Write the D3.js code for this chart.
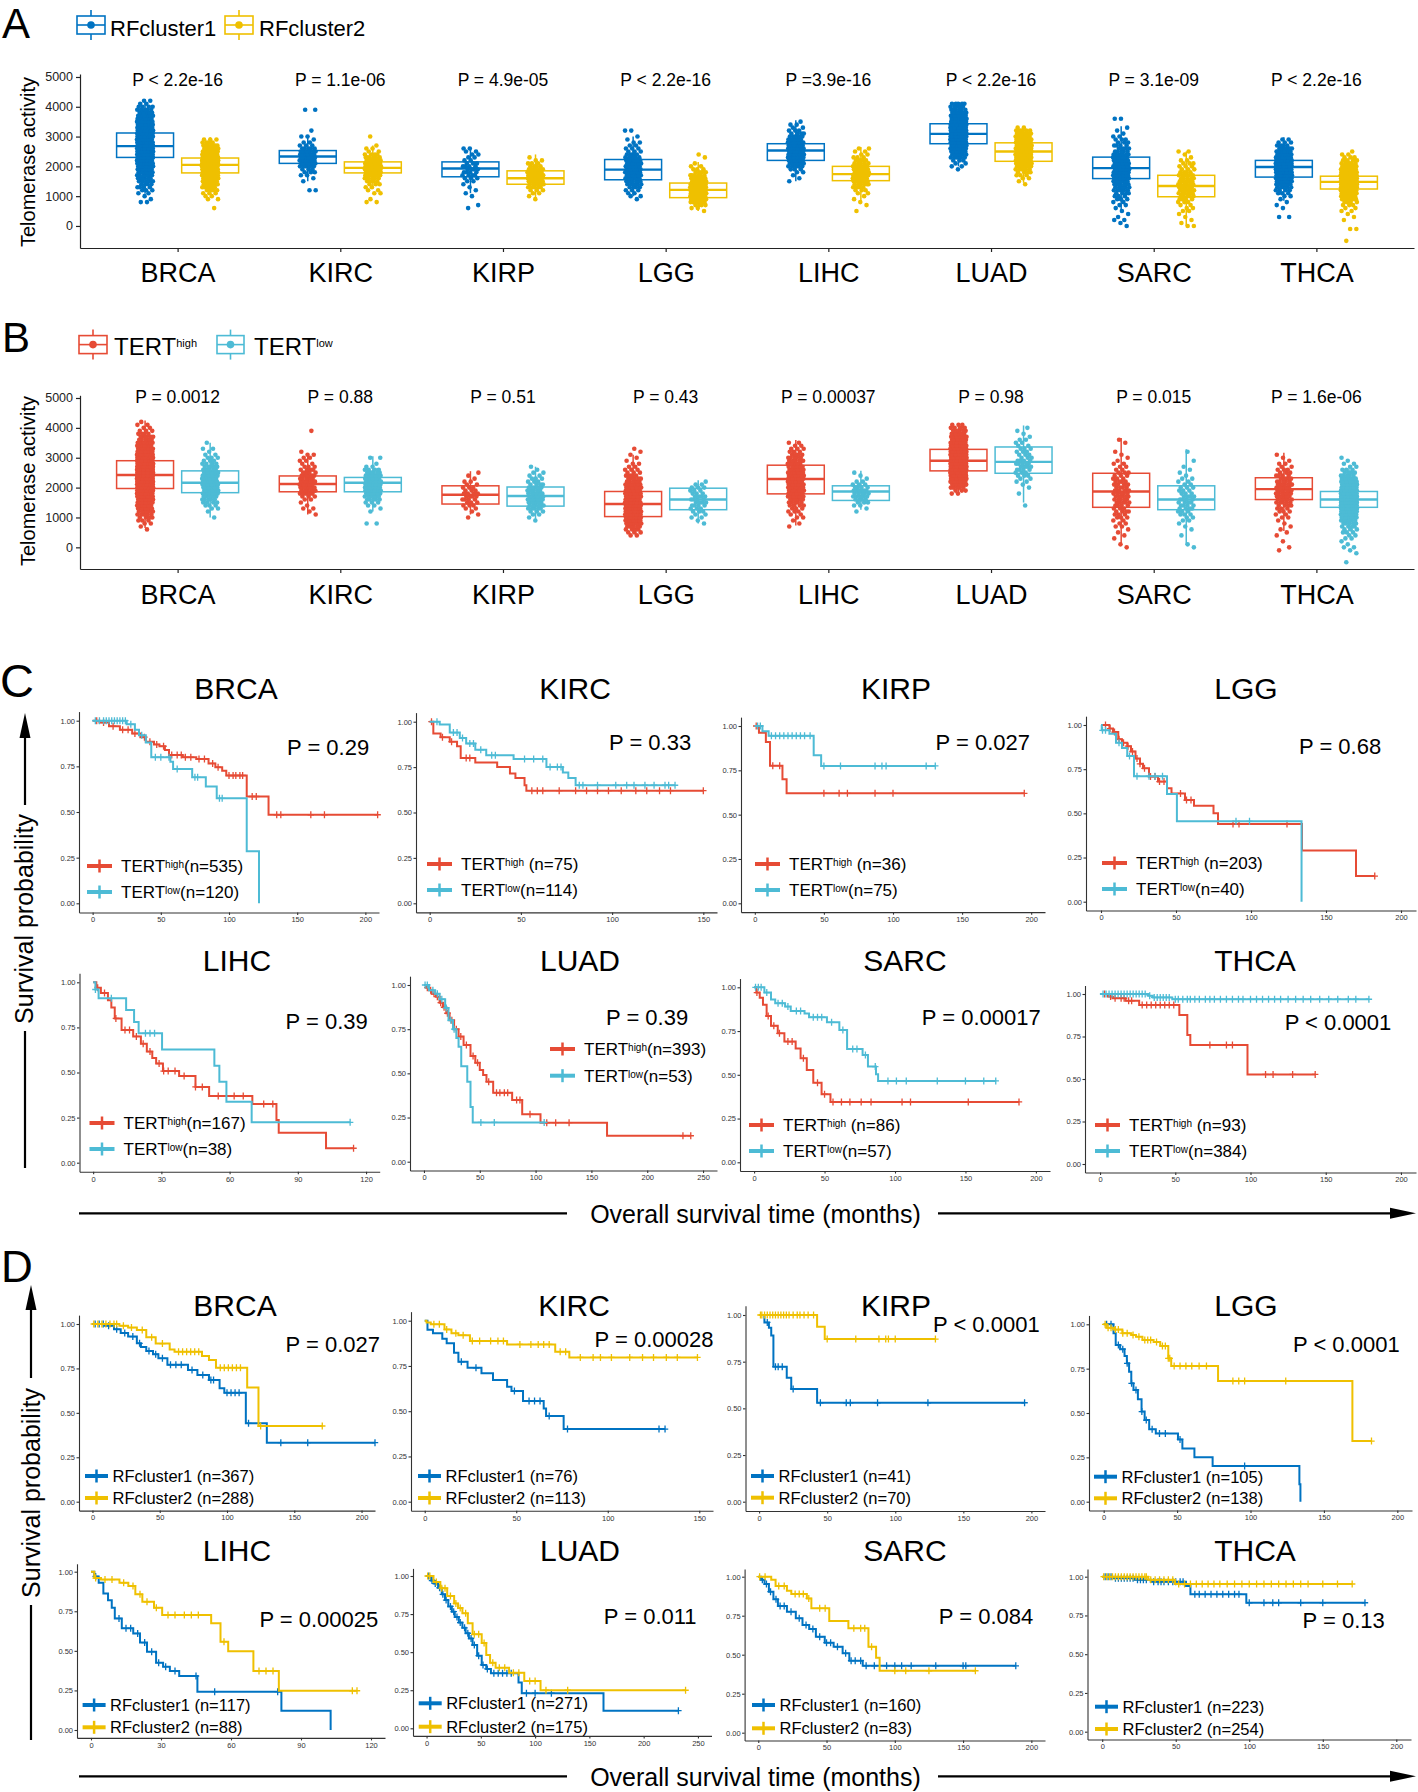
<!DOCTYPE html>
<html><head><meta charset="utf-8"><title>Telomerase figure</title>
<script src="https://cdn.jsdelivr.net/npm/d3@7/dist/d3.min.js"></script>
<style>html,body{margin:0;padding:0;background:#fff;}svg{display:block;}</style>
</head><body>
<svg id="fig" width="1418" height="1792" xmlns="http://www.w3.org/2000/svg"></svg>
<script>
// ================= DATA =================
const cancers = ["BRCA","KIRC","KIRP","LGG","LIHC","LUAD","SARC","THCA"];

// Panel A: box stats [lowerWhisker, Q1, median, Q3, upperWhisker]
const boxA_rf1 = [[1080,2300,2680,3120,4250],[1500,2100,2330,2530,3050],[1100,1650,1930,2150,2650],[1000,1550,1890,2230,3000],[1500,2200,2530,2760,3550],[2000,2760,3090,3430,4130],[500,1590,1940,2310,3350],[850,1640,1980,2200,2980]];
const boxA_rf2 = [[1040,1780,2050,2280,2980],[1250,1780,1950,2150,2700],[950,1400,1600,1850,2400],[500,950,1210,1440,2150],[800,1520,1740,2000,2650],[1450,2170,2500,2790,3300],[0,980,1340,1700,2500],[650,1240,1480,1670,2300]];
// Panel A: point counts per 100-unit value bin [lowest bin value, counts]
const histA_rf1 = [
 [800,[2,1,1,2,3,4,4,5,6,7,9,10,11,13,14,22,23,24,23,19,19,18,18,18,16,14,13,11,10,8,7,5,4,2,2]],
 [1200,[2,0,0,1,1,2,3,3,5,8,10,10,9,7,5,3,2,1,2,0,1,0,0,0,0,0,0,2]],
 [600,[1,1,0,0,1,1,1,1,1,2,3,4,4,4,4,3,2,2,2,2,2]],
 [900,[1,2,2,3,4,5,7,8,9,9,9,8,8,7,5,4,3,3,2,2,1,1,0,2]],
 [1500,[1,1,1,2,3,5,7,9,10,12,12,11,10,9,7,5,4,3,2,2,1]],
 [1900,[1,2,2,3,5,7,10,14,18,20,22,23,23,22,20,18,15,12,10,8,6,5,5]],
 [0,[1,1,2,1,1,1,1,2,2,3,3,4,5,6,7,9,10,10,11,11,10,10,9,8,6,5,4,4,3,3,2,1,1,1,0,0,2]],
 [300,[2,0,0,1,1,1,1,2,3,4,6,8,11,16,19,21,21,23,20,17,13,10,8,6,4,3,2]]
];
const histA_rf2 = [
 [600,[1,0,0,2,2,3,4,6,8,10,13,23,24,24,24,36,36,20,16,12,10,7,4,3]],
 [800,[2,1,0,2,2,2,3,4,6,10,14,16,14,12,9,6,4,2,2,1,0,0,1]],
 [900,[1,1,2,3,5,7,9,10,9,8,5,4,3,2,1]],
 [500,[1,2,4,7,10,14,17,18,16,13,10,8,6,4,3,2,1,0,1,1]],
 [500,[1,0,1,1,1,1,2,3,4,6,8,9,10,9,8,6,5,4,3,2,2,2]],
 [1400,[1,1,2,3,4,6,8,11,13,16,17,17,16,15,12,10,8,8,5,2]],
 [0,[2,1,1,1,1,2,2,2,3,4,5,6,6,6,6,6,5,5,4,3,3,3,2,1,1,2]],
 [-500,[1,0,0,0,2,0,0,1,1,1,2,2,3,4,6,9,14,20,26,30,30,27,22,16,12,9,6,4,3,2,1]]
];
const pA = ["P < 2.2e-16","P = 1.1e-06","P = 4.9e-05","P < 2.2e-16","P =3.9e-16","P < 2.2e-16","P = 3.1e-09","P < 2.2e-16"];

// Panel B
const boxB_high = [[650,1970,2420,2900,4250],[1100,1860,2120,2390,3100],[1100,1450,1760,2060,2550],[460,1030,1450,1870,3100],[730,1790,2290,2750,3590],[1850,2560,2900,3280,4160],[100,1340,1870,2480,3660],[550,1600,1950,2330,3170]];
const boxB_low = [[1000,1830,2160,2560,3500],[1200,1860,2160,2340,3050],[950,1380,1720,2020,2700],[800,1260,1600,1980,2250],[1260,1570,1870,2060,2560],[1500,2480,2860,3360,4080],[80,1260,1600,2060,3280],[550,1340,1600,1870,2650]];
const histB_high = [
 [600,[1,1,2,3,4,5,6,8,10,12,14,18,22,28,27,27,27,27,26,34,34,33,33,26,22,18,15,12,10,8,6,5,4,3,2,2,1]],
 [1100,[1,1,2,1,1,2,3,5,6,8,7,6,6,5,4,4,3,2,2,2,2,1,0,0,0,0,0,0,1]],
 [1000,[1,1,1,2,3,3,4,4,4,3,3,2,2,1,1,1]],
 [400,[2,3,4,6,8,10,12,13,14,14,14,13,12,12,11,10,8,7,6,5,4,3,3,2,2,1,1,1,1,1]],
 [700,[1,1,1,2,2,3,3,4,5,7,9,10,10,11,11,11,10,10,9,9,7,6,6,5,4,3,3,2,2]],
 [1800,[2,3,5,9,14,20,22,24,28,28,28,27,32,31,30,20,17,14,11,9,7,5,4,3]],
 [0,[1,1,0,1,1,1,1,2,2,2,3,3,4,3,4,5,5,5,5,4,4,4,4,3,3,3,2,2,2,1,1,1,1,0,0,1,1]],
 [-100,[1,1,0,1,0,1,1,1,1,1,1,2,2,3,3,4,5,5,7,7,7,7,6,5,4,4,3,3,2,2,1,1,1]]
];
const histB_low = [
 [1000,[1,0,1,2,3,4,5,6,8,9,10,10,9,9,8,8,6,5,4,3,3,2,1,2,0,1]],
 [800,[2,0,0,0,1,1,2,3,5,6,9,11,13,14,13,11,8,6,4,2,1,0,2]],
 [900,[1,1,2,3,5,6,7,8,8,7,6,5,4,3,3,2,2,1,1]],
 [800,[1,1,2,2,3,3,4,4,4,4,3,3,3,2,1]],
 [1200,[1,1,2,3,4,5,5,5,4,3,2,1,1,1]],
 [1400,[1,0,0,0,1,0,1,1,2,2,3,3,4,4,5,4,3,3,3,3,2,2,2,1,1,1,1]],
 [0,[1,1,0,0,1,0,1,1,1,2,2,3,3,4,4,4,4,4,3,3,3,2,2,2,1,1,1,1,0,1,0,0,1]],
 [-500,[1,0,0,1,1,2,1,1,2,2,3,3,4,5,7,10,15,22,30,36,41,41,36,30,24,18,13,10,7,5,4,3,2,2,1,1]]
];
const pB = ["P = 0.0012","P = 0.88","P = 0.51","P = 0.43","P = 0.00037","P = 0.98","P = 0.015","P = 1.6e-06"];

// KM: max of time axis (months) per cancer
const kmMax = [200,150,200,200,120,250,200,200];

// Panel C: steps [time, survival] for TERT high / low
const kmC_high = [
 [[0,1],[5,0.99],[12,0.97],[20,0.95],[29,0.93],[35,0.91],[39,0.885],[45,0.87],[49,0.86],[53,0.84],[56,0.812],[66,0.80],[76,0.79],[85,0.766],[90,0.745],[95,0.726],[98,0.70],[113,0.585],[129,0.485],[209,0.485]],
 [[0,1],[2,0.935],[6,0.915],[11,0.89],[15,0.865],[17,0.80],[25,0.775],[37,0.75],[44,0.715],[47,0.69],[52,0.65],[53,0.62],[150,0.62]],
 [[0,1],[3,0.962],[8,0.91],[11,0.776],[20,0.70],[23,0.62],[195,0.62]],
 [[0,1],[5.6,0.98],[8,0.96],[11.5,0.92],[14,0.90],[17.5,0.88],[20,0.85],[23,0.81],[26,0.78],[28,0.755],[32,0.708],[38,0.68],[44,0.642],[47,0.613],[56,0.575],[62,0.543],[75,0.50],[78,0.44],[134,0.29],[170,0.145],[182.5,0.145]],
 [[0,1],[1.4,0.97],[3.4,0.94],[6.5,0.90],[8,0.86],[9.5,0.80],[12.5,0.736],[17.6,0.70],[21,0.66],[23.6,0.616],[26,0.58],[27.7,0.55],[30.7,0.508],[37.8,0.48],[45,0.42],[51,0.37],[70,0.325],[80.6,0.237],[81.6,0.166],[102.4,0.08],[114.5,0.08]],
 [[0,1],[2,0.985],[4.5,0.97],[7,0.95],[10.7,0.934],[14,0.90],[17,0.874],[20,0.84],[23,0.80],[27,0.75],[31,0.708],[35.5,0.66],[41.7,0.598],[46,0.56],[50,0.519],[53,0.49],[56,0.453],[62,0.39],[79,0.349],[88,0.268],[104.4,0.221],[164,0.147],[239,0.147]],
 [[0,1],[1.6,0.97],[4,0.94],[6.3,0.90],[8.9,0.836],[12,0.78],[16.8,0.737],[21.5,0.69],[29.5,0.651],[33,0.594],[37.4,0.528],[42,0.455],[47.9,0.389],[54.2,0.345],[188,0.345]],
 [[0,1],[5.3,0.985],[8.3,0.975],[17,0.96],[26,0.935],[52.7,0.876],[58,0.759],[60,0.70],[98,0.527],[143,0.527]]
];
const kmC_low = [
 [[0,1],[25,0.98],[31,0.95],[34,0.92],[39,0.88],[43,0.80],[57,0.775],[59,0.735],[73,0.69],[83,0.64],[91,0.575],[113,0.285],[122,0]],
 [[0,1],[5.5,0.985],[11,0.94],[16.5,0.91],[20,0.88],[25,0.845],[31,0.815],[46,0.795],[64,0.75],[73,0.72],[76,0.69],[80,0.65],[134.5,0.65]],
 [[0,1],[5.5,0.97],[10,0.945],[42.6,0.835],[48,0.775],[130.6,0.775]],
 [[0,1],[0.5,0.97],[5.6,0.95],[10,0.90],[14,0.87],[17.5,0.825],[22,0.71],[44,0.61],[50.6,0.455],[133.7,0]],
 [[0,1],[1,0.96],[2.4,0.911],[14.5,0.847],[18,0.78],[20,0.717],[30.3,0.628],[53.3,0.538],[55.5,0.449],[58.6,0.338],[69.7,0.224],[113,0.224]],
 [[0,1],[4.5,0.97],[10,0.95],[14,0.92],[19,0.87],[22,0.80],[26,0.75],[29,0.70],[31,0.65],[33.4,0.54],[38.8,0.453],[41.7,0.31],[43.7,0.222],[107.7,0.222]],
 [[0,1],[7.3,0.97],[12,0.93],[15,0.909],[22,0.89],[26,0.865],[35.8,0.85],[39,0.829],[51.7,0.80],[60.5,0.756],[66,0.648],[77,0.613],[80.8,0.547],[86.5,0.503],[88,0.465],[171.5,0.465]],
 [[0,1],[32,0.99],[35,0.98],[48,0.969],[178.7,0.969]]
];
const censC_high = [
 [3,8,15,22,26,31,38,42,47,52,58,62,65,68,72,78,82,88,92,100,103,105,108,110,117,120,135,138,160,170,209],
 [1,7,12,20,22,56,59,62,71,80,86,92,98,105,113,119,126,132,150],
 [1,13,18,50,61,67,87,100,195],
 [3,6,9,12,15,18,21,24,26,29,33,36,39,42,53,57,60,88,92,124,182.5],
 [2,5,10,14,16,19,22,25,29,31,33,36,40,45,48,55,62,66,75,79,114.5],
 [3,6,9,12,15,18,21,25,29,33,38,44,48,58,65,68,72,75,83,86,95,110,118,130,232,239],
 [2,10,14,18,24,27,35,45,50,56,62,68,76,83,105,111,152,188],
 [3,7,10,14,16,19,21,28,31,34,37,40,43,46,49,73,84,88,110,115,128,143]
];
const censC_low = [
 [2,5,8,10,12,14,16,18,20,22,24,28,36,46,50,56,62,75,77,93,95],
 [4,13,15,18,22,24,28,34,36,52,57,62,66,70,72,82,84,92,102,108,112,118,123,129,131,134.5],
 [2,4,12,15,18,21,24,27,30,33,36,40,50,62,87,92,95,124,130.6],
 [1,3,12,19,24,32,36,41,90,99],
 [1,8,23,25,27,113],
 [1,3,8,12,16,20,24,27,51,63,107.7],
 [1,3,5,9,17,20,24,30,33,42,45,48,55,63,70,73,79,86,95,101,108,130,150,163,171.5],
 [2,4,6,8,10,12,14,16,18,20,22,24,26,28,30,33,36,38,40,42,44,46,50,52,55,58,60,63,66,70,73,76,80,84,88,92,95,100,104,108,112,116,120,125,130,135,140,146,152,158,165,170,178.7]
];
const pC = ["P = 0.29","P = 0.33","P = 0.027","P = 0.68","P = 0.39","P = 0.39","P = 0.00017","P < 0.0001"];
const nC_high = [535,75,36,203,167,393,86,93];
const nC_low = [120,114,75,40,38,53,57,384];
const spaceC_high = [false,true,true,true,false,false,true,true];

// Panel D: RFcluster1 / RFcluster2
const kmD_rf1 = [
 [[0,1],[9.3,0.99],[16,0.97],[21,0.95],[26.5,0.929],[33,0.891],[36,0.87],[40,0.848],[45,0.83],[49,0.807],[55.7,0.77],[71,0.741],[78,0.713],[86.6,0.685],[94.5,0.638],[98,0.613],[114,0.441],[129.6,0.332],[210,0.332]],
 [[0,1],[1.5,0.95],[4.5,0.93],[9.6,0.90],[12,0.875],[16,0.823],[18.4,0.773],[23.4,0.74],[31,0.709],[37.3,0.672],[45,0.635],[47.4,0.611],[53.7,0.556],[65,0.515],[66.3,0.473],[75.9,0.401],[131.3,0.401]],
 [[0,1],[3.9,0.96],[7.2,0.932],[8.9,0.89],[10.5,0.723],[20.3,0.664],[23.6,0.604],[42.6,0.53],[195,0.53]],
 [[0,1],[6.7,0.949],[8.2,0.883],[11.2,0.86],[14.2,0.821],[15.8,0.78],[17.3,0.733],[18.8,0.667],[20.3,0.63],[23.3,0.577],[25.8,0.508],[27.9,0.46],[31,0.408],[35.5,0.385],[50.6,0.351],[53.6,0.30],[61.8,0.25],[74.2,0.201],[133.3,0.098],[134,0]],
 [[0,1],[1.4,0.97],[3.3,0.93],[5.3,0.863],[7.3,0.82],[8.9,0.772],[10.2,0.705],[13.2,0.642],[18.1,0.61],[21,0.552],[24,0.495],[27.9,0.425],[30.9,0.40],[33.8,0.373],[37.8,0.341],[45.6,0.242],[81.6,0.122],[102.7,0]],
 [[0,1],[4.2,0.97],[7,0.95],[10.6,0.923],[14,0.88],[17,0.842],[20,0.80],[23.3,0.766],[26,0.73],[29.7,0.694],[33,0.66],[36,0.624],[39,0.59],[42.4,0.547],[46.6,0.477],[50.8,0.416],[55,0.39],[59.3,0.361],[84.7,0.30],[87.7,0.23],[163,0.116],[232,0.116]],
 [[0,1],[2,0.98],[4.6,0.953],[7.8,0.904],[11.1,0.855],[14.4,0.812],[21,0.776],[27.5,0.733],[32.4,0.69],[37.3,0.665],[42.2,0.615],[48.7,0.577],[55.2,0.551],[61.8,0.509],[66.7,0.462],[76.5,0.429],[188.6,0.429]],
 [[0,1],[7,0.99],[22,0.98],[33,0.968],[57,0.94],[60,0.886],[98,0.832],[178.7,0.832]]
];
const kmD_rf2 = [
 [[0,1],[20,0.99],[26.5,0.98],[33,0.966],[40,0.925],[47,0.89],[57.4,0.857],[61,0.844],[81.4,0.82],[86.6,0.797],[91.8,0.754],[115,0.642],[123.4,0.426],[170.8,0.426]],
 [[0,1],[1,0.99],[3.3,0.98],[10.8,0.952],[14.6,0.93],[18.4,0.92],[24.7,0.888],[45,0.869],[71.3,0.829],[79,0.797],[149,0.797]],
 [[0,1],[42.6,0.9375],[48.2,0.871],[129.5,0.871]],
 [[0,1],[2,0.98],[7,0.97],[12.7,0.95],[18.8,0.94],[22,0.93],[26.4,0.912],[34,0.90],[38.5,0.878],[44,0.808],[46,0.765],[77.9,0.68],[169.4,0.342],[182.4,0.342]],
 [[0,1],[1.4,0.96],[4.3,0.95],[12.2,0.93],[16,0.91],[19,0.857],[22,0.81],[27,0.772],[30.5,0.726],[51.5,0.674],[55.5,0.558],[58.8,0.497],[69.6,0.373],[80.5,0.248],[114,0.248]],
 [[0,1],[6.4,0.96],[12.7,0.92],[19,0.869],[25.4,0.82],[29,0.79],[33,0.755],[38,0.689],[42.4,0.617],[50.8,0.56],[55,0.481],[58.5,0.43],[63.6,0.398],[76,0.365],[90,0.31],[105,0.25],[238.6,0.25]],
 [[0,1],[9.5,0.98],[12.7,0.94],[21,0.91],[24.2,0.889],[35.6,0.861],[38.9,0.797],[52,0.716],[66,0.669],[80.7,0.551],[86.3,0.481],[88.9,0.397],[159,0.397]],
 [[0,1],[31.3,0.98],[49.5,0.953],[170,0.953]]
];
const censD_rf1 = [
 [2,5,8,12,18,24,30,35,42,47,52,58,62,66,74,82,88,90,100,103,106,109,116,140,160,210],
 [20,28,49,57,60,63,68,78,128,131.3],
 [6,12,14,17,25,45,64,67,87,124,195],
 [2,5,10,13,16,19,22,26,29,33,38,42,52,96],
 [2,12,15,17,20,23,26,29,32,36,45,53,80],
 [2,5,8,12,15,18,22,25,28,31,35,38,41,44,48,52,56,62,66,70,74,78,92,100,115,232],
 [3,6,9,13,16,19,24,30,35,40,45,50,53,58,64,68,71,75,79,85,94,100,105,112,130,150,152,188.6],
 [2,4,6,9,11,13,15,17,19,21,24,26,28,30,35,38,40,42,45,48,50,53,55,63,66,70,74,78,82,86,90,93,100,110,116,120,135,150,178.7]
];
const censD_rf2 = [
 [1,4,7,10,13,16,18,23,29,37,44,52,64,67,70,73,76,79,95,98,101,104,107,110,125,170.8],
 [5,8,12,17,21,26,30,36,40,43,52,58,62,65,68,74,77,85,92,96,102,112,119,125,132,138,149],
 [1,2,4,6,8,10,12,14,16,18,20,22,25,28,30,33,36,40,50,71,88,93,95,100,129.5],
 [1,3,5,8,10,13,16,20,24,28,30,32,36,40,42,44,45,48,52,56,60,65,70,88,92,96,124,182.4],
 [2,6,9,14,18,21,24,28,33,36,40,43,46,57,72,75,78,112,114],
 [1,3,9,14,17,22,27,31,36,44,48,53,61,67,72,80,85,95,100,110,130,238.6],
 [1,5,15,19,27,30,33,37,45,49,70,75,78,83,100,108,125,159],
 [1,3,5,7,9,11,13,15,17,19,21,23,25,27,29,30,33,36,39,42,45,48,52,56,60,64,68,72,76,80,85,90,95,100,105,110,115,120,125,130,135,140,150,160,170]
];
const pD = ["P = 0.027","P = 0.00028","P < 0.0001","P < 0.0001","P = 0.00025","P = 0.011","P = 0.084","P = 0.13"];
const nD_rf1 = [367,76,41,105,117,271,160,223];
const nD_rf2 = [288,113,70,138,88,175,83,254];

// ================= LAYOUT (pixels) =================
// [left, right, y of survival 1.00, y of survival 0.00]
const layoutC = [[79,379,720.7,903.3],[416,717,721.7,903.3],[741,1045,726,903.3],[1086,1416,725,901.7],[79.5,379.7,982.3,1162.7],[410,717,985,1161.7],[740,1050,987.3,1162.3],[1085,1416,994,1164]];
const layoutD = [[79,375,1324,1501.7],[411,713,1320.7,1501.7],[745.5,1045,1315,1501.7],[1089,1412,1324.3,1501.7],[77,385,1571.7,1730],[413,711.5,1576,1728.3],[744.6,1045,1576.7,1732.7],[1087.5,1411,1576.7,1731.7]];
const titleC = [[236,699],[575,699],[896,699],[1246,699],[237,971],[580,971],[905,971],[1255,971]];
const titleD = [[235,1316],[574,1316],[896,1316],[1246,1316],[237,1561],[580,1561],[905,1561],[1255,1561]];
const pPosC = [[287,746.7],[609,741.7],[935.6,741.7],[1299,746],[285.6,1020.7],[606,1017],[921.8,1017.3],[1284.7,1021.7]];
const pPosD = [[285.6,1344],[594.6,1339],[933,1324],[1293,1344],[259.4,1619],[603.8,1616],[938.8,1616],[1302.6,1620]];
const legPosC = [[87,866,892],[427,864,890],[755,864,890],[1102,863,889],[89.5,1123,1149],[550,1049,1075.7],[749,1125,1151],[1095,1125,1151]];
const legPosD = [[85,1476,1498],[418,1476,1498],[751,1476,1497.7],[1094,1476.7,1498.3],[82.6,1705,1727.3],[418.7,1703.3,1726.7],[752,1705,1728.3],[1095,1706.7,1729]];

const COL = {blue:"#0073C2", yellow:"#EFC000", red:"#E64B35", cyan:"#4DBBD5"};
const FONT = '"Liberation Sans", Arial, Helvetica, sans-serif';

// ================= DRAW =================
const svg = d3.select("#fig");
svg.append("rect").attr("width",1418).attr("height",1792).attr("fill","#fff");

function txt(g, s, x, y, size, anchor) {
  return g.append("text").attr("x",x).attr("y",y).attr("font-family",FONT)
    .attr("font-size",size).attr("text-anchor",anchor||"start").attr("fill","#000").text(s);
}

// panel letters
txt(svg,"A",2,38,42); txt(svg,"B",2,352,42); txt(svg,"C",0,697,47); txt(svg,"D",1,1282,44);

function boxIcon(g, x0, x1, yc, col) {
  const xc = (x0+x1)/2;
  g.append("line").attr("x1",xc).attr("x2",xc).attr("y1",yc-15).attr("y2",yc+15).attr("stroke",col).attr("stroke-width",1.6);
  g.append("rect").attr("x",x0).attr("y",yc-9).attr("width",x1-x0).attr("height",18).attr("fill","#fff").attr("stroke",col).attr("stroke-width",1.6);
  g.append("line").attr("x1",x0).attr("x2",x1).attr("y1",yc).attr("y2",yc).attr("stroke",col).attr("stroke-width",1.6);
  g.append("circle").attr("cx",xc).attr("cy",yc).attr("r",3.8).attr("fill",col);
}

function boxPanel(o) {
  const g = svg.append("g");
  const x = d3.scalePoint().domain(cancers).range([80,1414]).padding(0.6);
  const step = x.step();
  const y = d3.scaleLinear().domain(o.yDomain).range(o.yRange);
  const ya = g.append("g").attr("transform","translate(80,0)")
    .call(d3.axisLeft(y).tickValues([0,1000,2000,3000,4000,5000]).tickSize(4).tickSizeOuter(0).tickPadding(3).tickFormat(d3.format("d")));
  ya.selectAll("text").attr("font-size",12.5).attr("font-family",FONT).attr("fill","#222");
  ya.selectAll("line,path").attr("stroke","#222").attr("stroke-width",1.2);
  const xa = g.append("g").attr("transform",`translate(0,${o.yRange[0]})`)
    .call(d3.axisBottom(x).tickSize(4).tickSizeOuter(0).tickPadding(o.xPad));
  xa.selectAll("text").attr("font-size",27).attr("font-family",FONT).attr("fill","#000");
  xa.selectAll("line,path").attr("stroke","#222").attr("stroke-width",1.2);

  const groups = [{stats:o.box1,hist:o.hist1,col:o.col1,off:-0.2},{stats:o.box2,hist:o.hist2,col:o.col2,off:0.2}];
  const hw = 0.175*step;
  groups.forEach(gr => {
    cancers.forEach((c,ci) => {
      const cx = x(c)+gr.off*step;
      const [wl,q1,md,q3,wh] = gr.stats[ci];
      g.append("line").attr("x1",cx).attr("x2",cx).attr("y1",y(q3)).attr("y2",y(wh)).attr("stroke",gr.col).attr("stroke-width",1.5);
      g.append("line").attr("x1",cx).attr("x2",cx).attr("y1",y(q1)).attr("y2",y(wl)).attr("stroke",gr.col).attr("stroke-width",1.5);
      g.append("rect").attr("x",cx-hw).attr("y",y(q3)).attr("width",2*hw).attr("height",y(q1)-y(q3))
        .attr("fill","#fff").attr("stroke",gr.col).attr("stroke-width",1.5);
      g.append("line").attr("x1",cx-hw).attr("x2",cx+hw).attr("y1",y(md)).attr("y2",y(md)).attr("stroke",gr.col).attr("stroke-width",2.4);
    });
  });
  groups.forEach((gr,gi) => {
    cancers.forEach((c,ci) => {
      const cx = x(c)+gr.off*step;
      const [lo,counts] = gr.hist[ci];
      const pts = [];
      counts.forEach((n,k) => { for (let j=0;j<n;j++) pts.push(lo+k*100); });
      g.append("g").selectAll("circle").data(pts).join("circle")
        .attr("cx",(d,i)=> cx + ((((i+1)*0.6180339887 + ci*0.37 + gi*0.13) % 1) - 0.5)*2*0.05*step)
        .attr("cy",d=>y(d)).attr("r",2.3).attr("fill",gr.col);
    });
  });
  cancers.forEach((c,ci) => txt(g,o.pLabels[ci],x(c),o.pY,17.5,"middle"));
  g.append("text").attr("transform",`translate(35,${o.ylabY}) rotate(-90)`).attr("text-anchor","middle")
    .attr("font-family",FONT).attr("font-size",20).text("Telomerase activity");
  o.legend(g);
}

boxPanel({yDomain:[-740,5100], yRange:[248,74], xPad:11, box1:boxA_rf1, box2:boxA_rf2, hist1:histA_rf1, hist2:histA_rf2,
  col1:COL.blue, col2:COL.yellow, pLabels:pA, pY:86, ylabY:162,
  legend:g => {
    boxIcon(g,77,105,25,COL.blue); txt(g,"RFcluster1",110,36,22);
    boxIcon(g,225,253,25,COL.yellow); txt(g,"RFcluster2",259,36,22);
  }});
boxPanel({yDomain:[-725,5090], yRange:[569,395.3], xPad:12, box1:boxB_high, box2:boxB_low, hist1:histB_high, hist2:histB_low,
  col1:COL.red, col2:COL.cyan, pLabels:pB, pY:403, ylabY:481,
  legend:g => {
    boxIcon(g,79,107,344.6,COL.red);
    let t = txt(g,"",114,355,24); t.append("tspan").text("TERT"); t.append("tspan").attr("font-size",11).attr("dy",-8.5).text("high");
    boxIcon(g,217,244,344.6,COL.cyan);
    t = txt(g,"",254,355,24); t.append("tspan").text("TERT"); t.append("tspan").attr("font-size",11).attr("dy",-8.5).text("low");
  }});

function survAt(steps,t){ let s=1; for (const [tt,ss] of steps) if (tt<=t) s=ss; return s; }

function legKey(g,x0,yc,len,col){
  g.append("line").attr("x1",x0).attr("x2",x0+len).attr("y1",yc).attr("y2",yc).attr("stroke",col).attr("stroke-width",4);
  g.append("line").attr("x1",x0+len/2).attr("x2",x0+len/2).attr("y1",yc-6.5).attr("y2",yc+6.5).attr("stroke",col).attr("stroke-width",2.5);
}

function kmPanel(o) {
  cancers.forEach((c,i) => {
    const [L,R,y1,y0] = o.layout[i];
    const M = kmMax[i];
    const pad = 0.05*(y0-y1);
    const g = svg.append("g");
    const x = d3.scaleLinear().domain([-0.05*M,1.05*M]).range([L,R]);
    const y = d3.scaleLinear().domain([-0.05,1.05]).range([y0+pad,y1-pad]);
    const xt = M===120 ? d3.range(0,121,30) : d3.range(0,M+1,50);
    const xa = g.append("g").attr("transform",`translate(0,${y0+pad})`)
      .call(d3.axisBottom(x).tickValues(xt).tickSize(2.5).tickSizeOuter(0).tickPadding(2));
    const ya = g.append("g").attr("transform",`translate(${L},0)`)
      .call(d3.axisLeft(y).tickValues([0,0.25,0.5,0.75,1]).tickFormat(d3.format(".2f")).tickSize(2.5).tickSizeOuter(0).tickPadding(1.5));
    [xa,ya].forEach(a => {
      a.selectAll("text").attr("font-size",7.5).attr("font-family",FONT).attr("fill","#333");
      a.selectAll("line,path").attr("stroke","#333").attr("stroke-width",1.1);
    });
    const line = d3.line().x(d=>x(d[0])).y(d=>y(d[1])).curve(d3.curveStepAfter);
    [0,1].forEach(k => {
      const steps = o.curves[k][i], col = o.cols[k];
      g.append("path").attr("d",line(steps)).attr("fill","none").attr("stroke",col).attr("stroke-width",2);
      o.cens[k][i].forEach(t => {
        const cx = x(t), cy = y(survAt(steps,t));
        g.append("path").attr("d",`M${cx-3.2},${cy}H${cx+3.2}M${cx},${cy-3.5}V${cy+3.5}`).attr("stroke",col).attr("stroke-width",1.3);
      });
    });
    txt(g,c,o.title[i][0],o.title[i][1],30,"middle");
    txt(g,o.pLab[i],o.pPos[i][0],o.pPos[i][1]+8,22);
    const [lx,ly1,ly2] = o.leg[i];
    legKey(g,lx,ly1,o.legLen,o.cols[0]);
    legKey(g,lx,ly2,o.legLen,o.cols[1]);
    o.legText(g,i,lx+o.legGap,ly1+6,ly2+6);
  });
}

kmPanel({layout:layoutC, curves:[kmC_high,kmC_low], cens:[censC_high,censC_low], cols:[COL.red,COL.cyan],
  title:titleC, pLab:pC, pPos:pPosC, leg:legPosC, legLen:25, legGap:34,
  legText:(g,i,tx,b1,b2) => {
    let t = txt(g,"",tx,b1,17); t.append("tspan").text("TERT");
    t.append("tspan").attr("font-size",10).attr("dy",-4).text("high");
    t.append("tspan").attr("dy",4).text((spaceC_high[i]?" ":"")+"(n="+nC_high[i]+")");
    t = txt(g,"",tx,b2,17); t.append("tspan").text("TERT");
    t.append("tspan").attr("font-size",10).attr("dy",-4).text("low");
    t.append("tspan").attr("dy",4).text("(n="+nC_low[i]+")");
  }});
kmPanel({layout:layoutD, curves:[kmD_rf1,kmD_rf2], cens:[censD_rf1,censD_rf2], cols:[COL.blue,COL.yellow],
  title:titleD, pLab:pD, pPos:pPosD, leg:legPosD, legLen:23, legGap:27.5,
  legText:(g,i,tx,b1,b2) => {
    txt(g,"RFcluster1 (n="+nD_rf1[i]+")",tx,b1,16.5);
    txt(g,"RFcluster2 (n="+nD_rf2[i]+")",tx,b2,16.5);
  }});

// shared axis titles with arrows
function vArrow(xc, yTip, yBase, yLineEnd, yLow1, yLow2) {
  svg.append("path").attr("d",`M${xc},${yTip}L${xc-5.5},${yBase}L${xc+5.5},${yBase}Z`).attr("fill","#000");
  svg.append("line").attr("x1",xc).attr("x2",xc).attr("y1",yBase-1).attr("y2",yLineEnd).attr("stroke","#000").attr("stroke-width",2.2);
  svg.append("line").attr("x1",xc).attr("x2",xc).attr("y1",yLow1).attr("y2",yLow2).attr("stroke","#000").attr("stroke-width",2.2);
}
function hArrow(yc, baseline) {
  svg.append("line").attr("x1",79).attr("x2",567).attr("y1",yc).attr("y2",yc).attr("stroke","#000").attr("stroke-width",2.2);
  svg.append("line").attr("x1",938).attr("x2",1392).attr("y1",yc).attr("y2",yc).attr("stroke","#000").attr("stroke-width",2.2);
  svg.append("path").attr("d",`M1416,${yc}L1390,${yc-5.5}L1390,${yc+5.5}Z`).attr("fill","#000");
  txt(svg,"Overall survival time (months)",755.5,baseline,25,"middle");
}
vArrow(25,713,738,805,1031,1168);
svg.append("text").attr("transform","translate(33,919) rotate(-90)").attr("text-anchor","middle").attr("font-family",FONT).attr("font-size",25).text("Survival probability");
hArrow(1213.3,1223);
vArrow(31,1285,1310,1378,1605,1740);
svg.append("text").attr("transform","translate(40,1493) rotate(-90)").attr("text-anchor","middle").attr("font-family",FONT).attr("font-size",25).text("Survival probability");
hArrow(1776.3,1786);
</script>
</body></html>
